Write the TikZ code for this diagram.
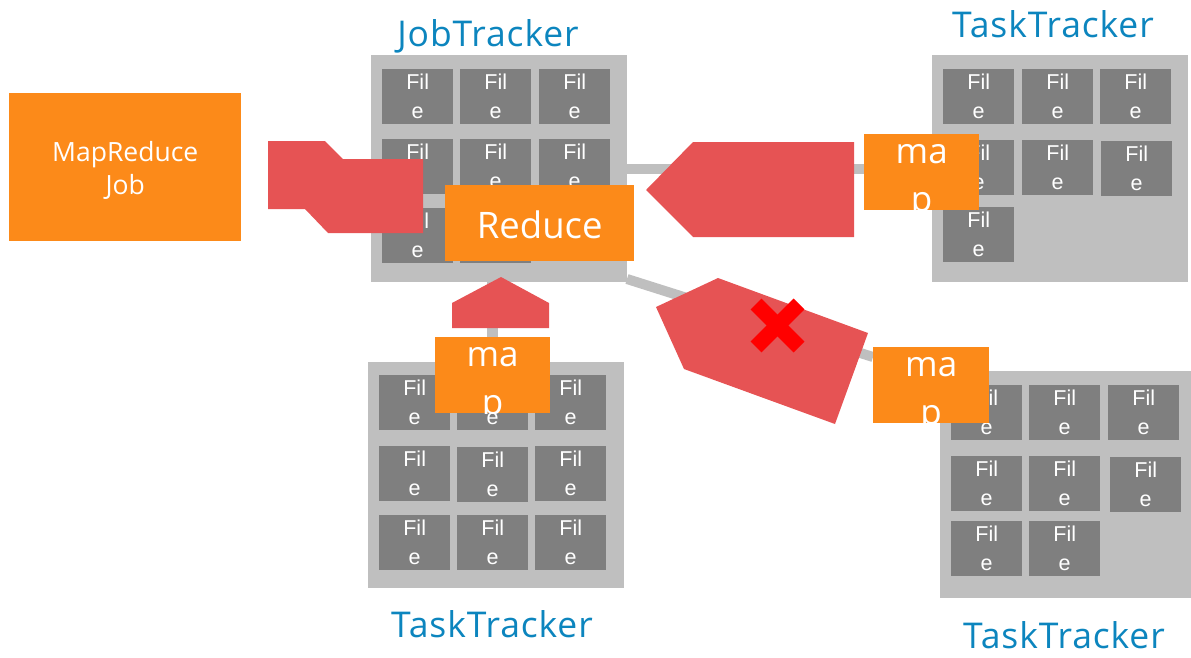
\documentclass[tikz,border=0pt]{standalone}
\usepackage{fontspec}
\setmainfont{Open Sans}
\newfontfamily\cellfont{Liberation Sans}
\newfontfamily\titlefont[LetterSpace=2.5]{Open Sans}
\usetikzlibrary{calc}

\definecolor{trackergray}{RGB}{191,191,191}
\definecolor{filegray}{RGB}{127,127,127}
\definecolor{joborange}{RGB}{252,138,25}
\definecolor{flowred}{RGB}{230,83,84}
\definecolor{titleblue}{RGB}{12,133,190}
\definecolor{failred}{RGB}{255,0,0}

\pgfdeclarelayer{links}
\pgfsetlayers{links,main}

\begin{document}
\begin{tikzpicture}[x=1pt,y=-1pt,
  tracker/.style={fill=trackergray, draw=none, anchor=north west, inner sep=0pt},
  filecell/.style={fill=filegray, draw=none, anchor=north west, inner sep=0pt,
    minimum width=71pt, minimum height=55pt, text=white, align=center,
    font=\cellfont\fontsize{21.5}{29}\selectfont},
  orangebox/.style={fill=joborange, draw=none, anchor=north west, inner sep=0pt},
  boxtext/.style={text=white, anchor=base, inner sep=0pt},
  title/.style={text=titleblue, anchor=base, inner sep=0pt, font=\titlefont\fontsize{35.5}{42}\selectfont},
  link/.style={draw=trackergray, line width=10pt},
  flow/.style={fill=flowred, draw=none},
]
\useasboundingbox (0,0) rectangle (1191,657);

% ---------- tracker panels ----------
\node[tracker, minimum width=256pt, minimum height=227pt] (jt)  at (371,55)  {};
\node[tracker, minimum width=256pt, minimum height=227pt] (tt1) at (932,55)  {};
\node[tracker, minimum width=256pt, minimum height=226pt] (tt2) at (368,362) {};
\node[tracker, minimum width=251pt, minimum height=227pt] (tt3) at (940,371) {};

% ---------- file cells ----------
% job tracker
\foreach \name/\x/\y in {a/382/69, b/460/69, c/539/69,
                         d/382/139, e/460/139, f/539/139,
                         g/382/208, h/460/208}
  \node[filecell] (jt-\name) at (\x,\y) {Fil\\e};
% upper task tracker
\foreach \name/\x/\y in {a/943/69, b/1022/69, c/1100/69,
                         d/943/140, e/1022/140, f/1101/141,
                         g/943/207}
  \node[filecell] (tt1-\name) at (\x,\y) {Fil\\e};
% lower task tracker
\foreach \name/\x/\y in {a/379/375, b/457/375, c/535/375,
                         d/379/446, e/457/447, f/535/446,
                         g/379/515, h/457/515, i/535/515}
  \node[filecell] (tt2-\name) at (\x,\y) {Fil\\e};
% right task tracker
\foreach \name/\x/\y in {a/951/385, b/1029/385, c/1108/385,
                         d/951/456, e/1029/456, f/1110/457,
                         g/951/521, h/1029/521}
  \node[filecell] (tt3-\name) at (\x,\y) {Fil\\e};

% ---------- red flow shapes ----------
\fill[flow] (268,141) -- (325,141) -- (343,159) -- (423,159) -- (423,233)
  -- (328,233) -- (305,209) -- (268,209) -- cycle;
\fill[flow] (646,190) -- (693,142) -- (854,142) -- (854,237) -- (693,237) -- cycle;
\fill[flow] (501,277) -- (549,303) -- (549,328) -- (452,328) -- (452,303) -- cycle;
\fill[flow] (656,307) -- (718,278) -- (868,333) -- (835,424) -- (684,369) -- cycle;

% ---------- failure mark ----------
\draw[failred, line width=15.5pt] (756,304) -- (799,347);
\draw[failred, line width=15.5pt] (756,347) -- (799,304);

% ---------- orange boxes ----------
\node[orangebox, minimum width=232pt, minimum height=148pt] (job) at (9,93) {};
\node[boxtext, font=\fontsize{26.5}{33}\selectfont] (job-l1) at ([yshift=-68pt]job.north) {MapReduce};
\node[boxtext, font=\fontsize{26.5}{33}\selectfont] (job-l2) at ([yshift=-101pt]job.north) {Job};

\node[orangebox, minimum width=189pt, minimum height=76pt] (reduce) at (445,185) {};
\node[boxtext, font=\fontsize{36.5}{43}\selectfont] (reduce-l) at ([yshift=-53pt]reduce.north) {Reduce};

\node[orangebox, minimum width=115pt, minimum height=76pt] (map1) at (864,134) {};
\node[orangebox, minimum width=115pt, minimum height=76pt] (map2) at (435,337) {};
\node[orangebox, minimum width=116pt, minimum height=76pt] (map3) at (873,347) {};

% map labels are cut off at the box edge
\foreach \m in {map1,map2,map3}{
  \begin{scope}
    \clip (\m.north west) rectangle (\m.south east);
    \node[boxtext, font=\fontsize{35}{48}\selectfont] (\m-l1) at ([yshift=-29pt]\m.north) {ma};
    \node[boxtext, font=\fontsize{35}{48}\selectfont] (\m-l2) at ([yshift=-77pt]\m.north) {p};
  \end{scope}
}

% ---------- links between the job tracker and the task trackers ----------
\coordinate (diagA) at (627,279);
\coordinate (diagB) at (873,357);
\begin{pgfonlayer}{links}
\draw[link] (jt.east) -- (map1.west |- jt.east);
\draw[link, line width=11pt] (map2.north |- jt.south) -- (map2.north);
\draw[link] (diagA) -- (diagB);
\end{pgfonlayer}

% ---------- titles ----------
\node[title] (jt-title)  at (488,46)  {JobTracker};
\node[title] (tt1-title) at (1053,37) {TaskTracker};
\node[title] (tt2-title) at (492,637) {TaskTracker};
\node[title] (tt3-title) at (1064,648) {TaskTracker};
\end{tikzpicture}
\end{document}
